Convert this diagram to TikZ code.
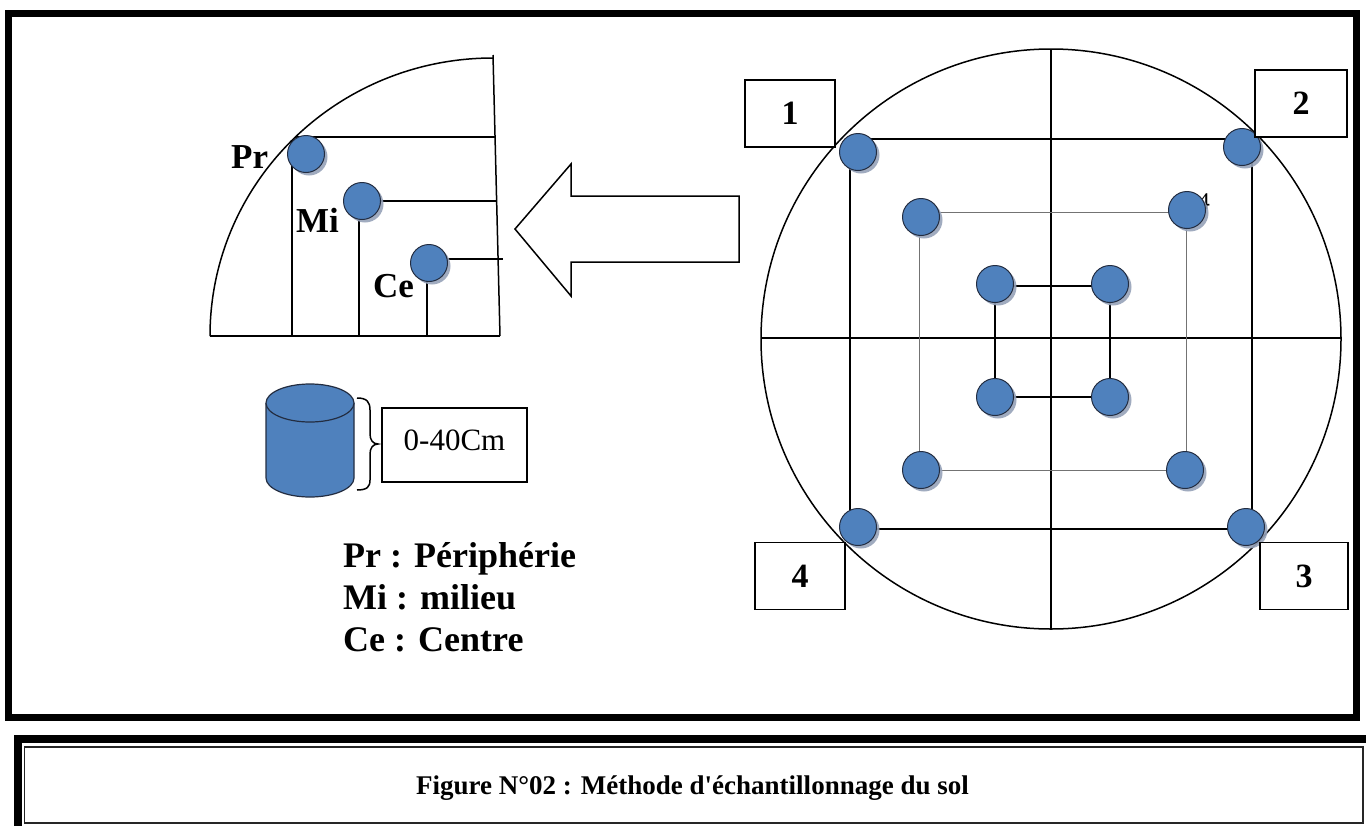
\documentclass[tikz,border=0pt]{standalone}
\usepackage{fontspec}
\setmainfont{Liberation Serif}
\usetikzlibrary{shadows}
\definecolor{dotblue}{RGB}{79,129,189}
\definecolor{dotedge}{RGB}{35,45,65}
\definecolor{shade}{RGB}{150,162,185}
\begin{document}
\begin{tikzpicture}[x=1pt,y=-1pt,
  dot/.style={circle,minimum size=37pt,inner sep=0pt,fill=dotblue,draw=dotedge,line width=1pt,
    drop shadow={shadow xshift=3pt,shadow yshift=-3pt,fill=shade,opacity=0.9}},
  numbox/.style={draw,line width=1.5pt,fill=white,inner sep=0pt,minimum height=67pt,
    font=\fontsize{34}{40}\selectfont\bfseries},
  thinline/.style={line width=1.5pt},
  lbl/.style={anchor=base west,inner sep=0pt,font=\fontsize{35}{40}\selectfont\bfseries},
  legend/.style={anchor=base west,inner sep=0pt,font=\fontsize{36}{42}\selectfont\bfseries},
  cyl/.style={draw=dotedge,line width=1.2pt}
]
\clip (0,0) rectangle (1366,825);
\fill[white] (0,0) rectangle (1366,825);

% outer frame
\draw[line width=7pt] (8.5,13) rectangle (1356,717.5);

% caption frame
\draw[line width=8pt] (18,840) -- (18,739) -- (1390,739);
\draw[line width=1.3pt,black!85] (24.5,747) rectangle (1363,823);
\node[anchor=base,inner sep=0pt,font=\fontsize{27}{32}\selectfont\bfseries] (cap) at (692.5,794)
  {Figure N°02 : Méthode d\textquotesingle échantillonnage du sol};

% ---------- left: quarter section ----------
\draw[thinline] (210,336) arc[start angle=180,end angle=270,x radius=283,y radius=278];
\draw[thinline] (210,336) -- (500,336);
\draw[thinline] (493,55) -- (500,336);
\draw[thinline] (292,140) -- (292,336);
\draw[thinline] (295,137) -- (495,137);
\draw[thinline] (359,201) -- (359,336);
\draw[thinline] (362,201) -- (497,201);
\draw[thinline] (427,263) -- (427,336);
\draw[thinline] (429,259) -- (503,259);
\node[dot] (pr) at (306,154) {};
\node[dot] (mi) at (362,201) {};
\node[dot] (ce) at (429,263) {};
\node[lbl] (prl) at (231,168) {Pr};
\node[lbl] (mil) at (296,232) {Mi};
\node[lbl] (cel) at (373,297) {Ce};

% cylinder
\fill[dotblue] (266,403) -- (266,478) arc[start angle=180,end angle=0,x radius=44,y radius=19] -- (354,403) -- cycle;
\draw[cyl] (266,403) -- (266,478) arc[start angle=180,end angle=0,x radius=44,y radius=19] -- (354,403);
\draw[cyl,fill=dotblue] (310,403) ellipse[x radius=44,y radius=19];
% brace
\draw[line width=1.5pt] (357,398) .. controls (367,398) and (370,402) .. (370,410) -- (370,434)
  .. controls (370,440) and (373,444) .. (378,444)
  .. controls (373,444) and (370,448) .. (370,454) -- (370,480)
  .. controls (370,487) and (367,490) .. (357,490);
\node[draw,line width=1.5pt,minimum width=145pt,minimum height=74pt,inner sep=0pt] (depth) at (454.5,445) {};
\node[anchor=base,inner sep=0pt,font=\fontsize{31}{36}\selectfont] (deptht) at (454.5,450) {0-40Cm};

% legend
\node[legend] (lg1) at (343,567) {Pr : Périphérie};
\node[legend] (lg2) at (343,609) {Mi : milieu};
\node[legend] (lg3) at (343,651) {Ce : Centre};

% arrow
\draw[line width=1.5pt,line join=miter] (515,229) -- (571,164) -- (571,196) -- (739,196)
  -- (739,262) -- (571,262) -- (571,296) -- cycle;

% ---------- right: plot circle ----------
\draw[thinline] (1051,339) circle[radius=290];
\draw[thinline] (1051,49) -- (1051,629);
\draw[thinline] (761,338) -- (1341,338);
\draw[thinline] (850,139) rectangle (1252,529);
\draw[line width=0.9pt,black!55] (919,212) rectangle (1186,470);
\draw[line width=1.8pt] (995,286) rectangle (1110,397);

\node[anchor=north east,inner sep=0pt,font=\fontsize{24}{24}\selectfont] (four) at (1210,193) {4};

\node[dot] (o1) at (858,152) {};
\node[dot] (o2) at (1242,147) {};
\node[dot] (o3) at (1246,527) {};
\node[dot] (o4) at (858,527) {};
\node[dot] (m1) at (921,217) {};
\node[dot] (m2) at (1187,210) {};
\node[dot] (m3) at (1185,470) {};
\node[dot] (m4) at (921,470) {};
\node[dot] (c1) at (995,284) {};
\node[dot] (c2) at (1110,284) {};
\node[dot] (c3) at (1110,397) {};
\node[dot] (c4) at (995,397) {};

\node[numbox,minimum width=90pt] (b1) at (790,113.5) {1};
\node[numbox,minimum width=92pt] (b2) at (1301,103.5) {2};
\node[numbox,minimum width=88pt] (b3) at (1304,576) {3};
\node[numbox,minimum width=90pt] (b4) at (800,576) {4};
\end{tikzpicture}
\end{document}
